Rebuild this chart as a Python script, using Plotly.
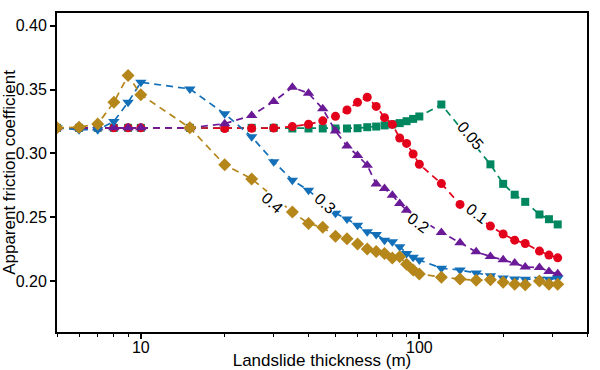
import math
import plotly.graph_objects as go

# ---- data ----
x_04 = [5, 6, 7, 8, 9, 10, 15, 20, 25, 35, 40, 45, 50, 55, 60, 65, 70, 75, 80, 85, 90, 95, 100,
        120, 140, 160, 180, 200, 220, 240, 270, 292, 314]
y_04 = [0.320, 0.3205, 0.323, 0.340, 0.361, 0.346, 0.320, 0.291, 0.280, 0.254, 0.245, 0.242, 0.235,
        0.233, 0.229, 0.225, 0.223, 0.2215, 0.218, 0.219, 0.213, 0.2085, 0.2055,
        0.203, 0.2015, 0.2005, 0.201, 0.199, 0.1975, 0.197, 0.200, 0.1975, 0.1975]

x_03 = [5, 6, 7, 8, 9, 10, 15, 20, 25, 30, 35, 40, 50, 55, 60, 65, 70, 75, 80, 85, 90, 95, 100,
        120, 140, 160, 180, 200, 220, 240, 270, 292, 314]
y_03 = [0.320, 0.3185, 0.3185, 0.325, 0.340, 0.3557, 0.3505, 0.331, 0.313, 0.2935, 0.279, 0.271,
        0.253, 0.2485, 0.2437, 0.2385, 0.2365, 0.232, 0.2307, 0.2268, 0.2216, 0.2185, 0.2164,
        0.210, 0.2086, 0.2062, 0.204, 0.2023, 0.2016, 0.2013, 0.2013, 0.2013, 0.2022]

x_02 = [5, 6, 7, 8, 9, 10, 15, 20, 25, 30, 35, 40, 45, 50, 55, 60, 65, 70, 75, 80, 85, 90,
        120, 140, 160, 180, 200, 220, 240, 270, 292, 314]
y_02 = [0.320, 0.320, 0.320, 0.320, 0.320, 0.320, 0.320, 0.3233, 0.3297, 0.3406, 0.3518, 0.3471,
        0.3349, 0.3175, 0.3057, 0.2984, 0.2906, 0.276, 0.2724, 0.2672, 0.2607, 0.2555,
        0.238, 0.230, 0.2228, 0.2192, 0.2167, 0.214, 0.211, 0.2105, 0.2075, 0.2057]

x_01 = [5, 6, 7, 8, 9, 10, 15, 20, 25, 30, 35, 40, 45, 50, 55, 60, 65, 70, 75, 80, 85, 90, 95, 100,
        120, 140, 180, 200, 220, 240, 270, 292, 314]
y_01 = [0.320, 0.320, 0.320, 0.320, 0.320, 0.320, 0.320, 0.3195, 0.3197, 0.3198, 0.321, 0.3228,
        0.3255, 0.329, 0.334, 0.340, 0.344, 0.3368, 0.328, 0.3227, 0.312, 0.3078, 0.2995, 0.2915,
        0.2763, 0.2600, 0.243, 0.2368, 0.232, 0.2294, 0.2234, 0.2203, 0.2181]

x_005 = [5, 6, 7, 8, 9, 10, 15, 20, 25, 30, 35, 40, 45, 50, 55, 60, 65, 70, 75, 80, 85, 90, 95, 100,
         120, 180, 200, 220, 240, 270, 292, 314]
y_005 = [0.320, 0.320, 0.320, 0.320, 0.320, 0.320, 0.320, 0.320, 0.320, 0.320, 0.3195, 0.3195,
         0.3195, 0.3195, 0.3195, 0.3197, 0.3205, 0.321, 0.3219, 0.3227, 0.3237, 0.3252, 0.327,
         0.3289, 0.3383, 0.2914, 0.2761, 0.2676, 0.262, 0.2521, 0.2484, 0.2443]

label_text = ["0.4", "0.3", "0.2", "0.1", "0.05"]
label_x = [29.5, 45.9, 98.6, 161, 152.6]
label_y = [0.2612, 0.2607, 0.2455, 0.2529, 0.3141]
label_angle = [42, 42, 36, 37, 50]

x_tick_vals = [10, 100]
x_minor_vals = [5, 6, 7, 8, 9, 20, 30, 40, 50, 60, 70, 80, 90, 200, 300, 400]
y_tick_vals = [0.20, 0.25, 0.30, 0.35, 0.40]

FONT = "Liberation Sans, Arial, sans-serif"

series = [
    (x_005, y_005, "#00875F", "square", 8),
    (x_01, y_01, "#E3001B", "circle", 9),
    (x_02, y_02, "#6A1A96", "triangle-up", 10),
    (x_03, y_03, "#1370B8", "triangle-down", 10),
    (x_04, y_04, "#B5861A", "diamond", 10),
]

fig = go.Figure()
for xs, ys, col, sym, sz in series:
    fig.add_trace(go.Scatter(
        x=xs, y=ys, mode="lines+markers",
        line=dict(color=col, width=1.7, dash="7px,5px"),
        marker=dict(color=col, symbol=sym, size=sz, line=dict(width=0)),
        showlegend=False,
    ))

for t, lx, ly, ang in zip(label_text, label_x, label_y, label_angle):
    fig.add_annotation(
        x=math.log10(lx), y=ly, xref="x", yref="y", text=t, showarrow=False,
        textangle=ang, bgcolor="white", borderpad=0,
        font=dict(family=FONT, size=16, color="black"),
        xanchor="center", yanchor="middle",
    )

fig.update_xaxes(
    type="log", range=[math.log10(5), math.log10(400)],
    tickmode="array", tickvals=x_tick_vals, ticktext=[str(v) for v in x_tick_vals],
    ticks="outside", ticklen=5, tickwidth=1.5, tickcolor="black",
    minor=dict(tickmode="array", tickvals=x_minor_vals, ticks="outside", ticklen=3,
               tickwidth=1.2, tickcolor="black", showgrid=False),
    showline=True, linecolor="black", linewidth=2, mirror=True,
    showgrid=False, zeroline=False, automargin=False,
    ticklabelstandoff=-5,
    title=dict(text="Landslide thickness (m)", font=dict(family=FONT, size=17, color="black"),
               standoff=0),
    tickfont=dict(family=FONT, size=16, color="black"),
)
fig.update_yaxes(
    range=[0.16, 0.41],
    tickmode="array", tickvals=y_tick_vals, ticktext=[f"{v:.2f}" for v in y_tick_vals],
    ticks="outside", ticklen=5, tickwidth=1.5, tickcolor="black",
    showline=True, linecolor="black", linewidth=2, mirror=True,
    showgrid=False, zeroline=False, automargin=False,
    title=dict(text="Apparent friction coefficient", font=dict(family=FONT, size=17, color="black"),
               standoff=2),
    tickfont=dict(family=FONT, size=16, color="black"),
)

fig.update_layout(
    width=600, height=370,
    margin=dict(l=57, r=13, t=13, b=38),
    paper_bgcolor="white", plot_bgcolor="white",
    font=dict(family=FONT, color="black"),
)

fig.write_html("out.html", config={"displayModeBar": False},
               post_script="document.body.style.margin='0';document.body.style.overflow='hidden';")
